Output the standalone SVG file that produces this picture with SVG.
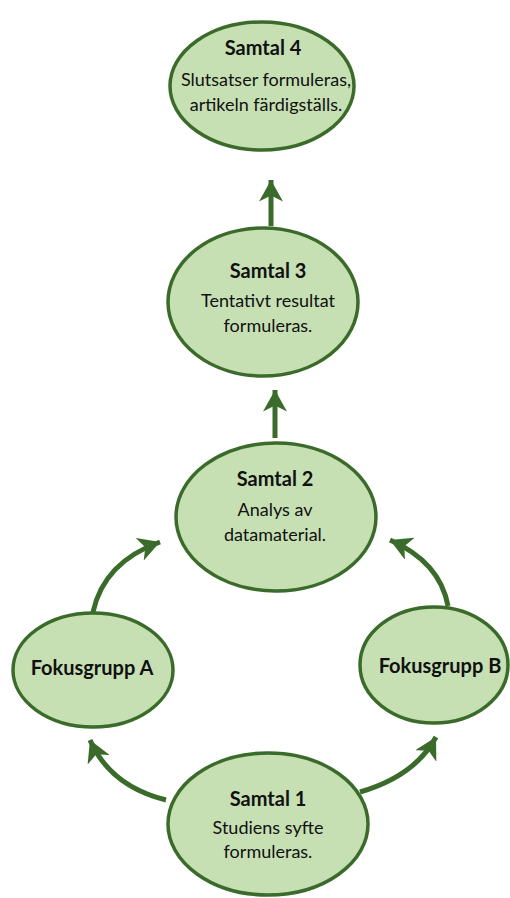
<svg xmlns="http://www.w3.org/2000/svg" width="510" height="898" viewBox="0 0 510 898">
<style>
.node{fill:#c6e0b4;stroke:#3b6b2a;stroke-width:3.5}
.t{font-family:Lato,"Open Sans","Liberation Sans",sans-serif;font-size:18px;fill:#111;text-anchor:middle}
.b{font-weight:bold;font-size:20px}
.c{fill:none;stroke:#3b6b2a;stroke-width:5;stroke-linecap:butt}
</style>
<defs>
<marker id="ah" markerUnits="userSpaceOnUse" markerWidth="24" markerHeight="24" refX="18" refY="10" orient="auto" viewBox="0 0 20 20">
<path d="M0,0 L18,10 L0,20 L5,10 Z" fill="#3b6b2a"/>
</marker>
</defs>
<g id="connectors">
<path class="c" d="M271,226 L271,180" marker-end="url(#ah)"/>
<path class="c" d="M275,438 L275,390" marker-end="url(#ah)"/>
<path class="c" d="M93,612 Q104,562 160,542" marker-end="url(#ah)"/>
<path class="c" d="M448,606 Q440,562 390,540" marker-end="url(#ah)"/>
<path class="c" d="M166,800 Q110,786 90,740" marker-end="url(#ah)"/>
<path class="c" d="M360,792 Q415,776 436,737" marker-end="url(#ah)"/>
</g>
<g id="samtal4">
<ellipse class="node" cx="262" cy="86" rx="92" ry="64"/>
<text class="t b" x="263" y="55">Samtal 4</text>
<text class="t" x="266" y="86">Slutsatser formuleras,</text>
<text class="t" x="266" y="111">artikeln färdigställs.</text>
</g>
<g id="samtal3">
<ellipse class="node" cx="263" cy="302" rx="95" ry="74"/>
<text class="t b" x="268" y="278">Samtal 3</text>
<text class="t" x="268" y="307">Tentativt resultat</text>
<text class="t" x="268" y="332">formuleras.</text>
</g>
<g id="samtal2">
<ellipse class="node" cx="276" cy="517" rx="100" ry="74"/>
<text class="t b" x="275" y="486">Samtal 2</text>
<text class="t" x="275" y="516">Analys av</text>
<text class="t" x="275" y="541">datamaterial.</text>
</g>
<g id="fokusgruppA">
<ellipse class="node" cx="93" cy="670" rx="80" ry="57"/>
<text class="t b" x="92" y="675">Fokusgrupp A</text>
</g>
<g id="fokusgruppB">
<ellipse class="node" cx="434" cy="665" rx="74" ry="58"/>
<text class="t b" x="440" y="673">Fokusgrupp B</text>
</g>
<g id="samtal1">
<ellipse class="node" cx="268" cy="824" rx="100" ry="71"/>
<text class="t b" x="268" y="806">Samtal 1</text>
<text class="t" x="268" y="834">Studiens syfte</text>
<text class="t" x="268" y="858">formuleras.</text>
</g>
</svg>
